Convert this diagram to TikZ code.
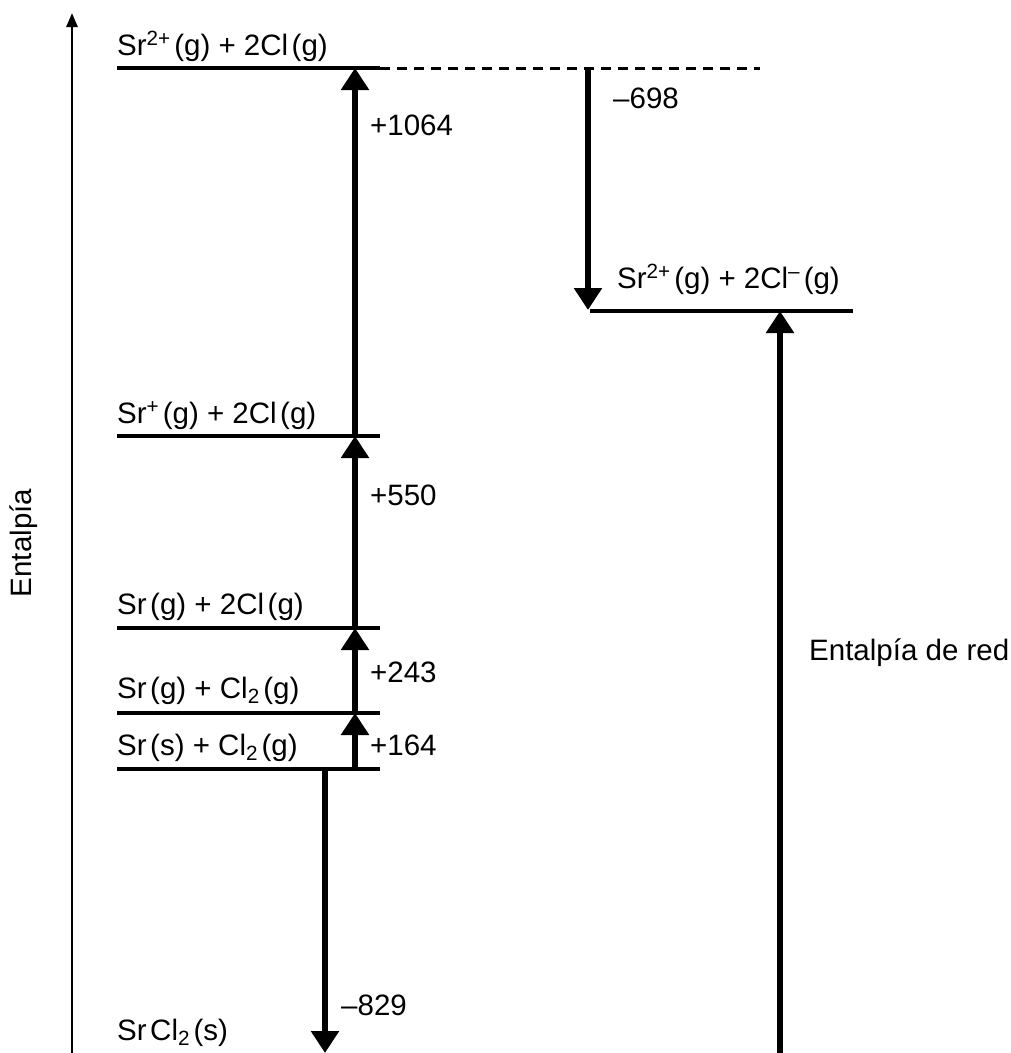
\documentclass[tikz,border=0pt]{standalone}
\usepackage{fontspec}
\setmainfont{Liberation Sans}
\usetikzlibrary{arrows.meta}
\tikzset{
  level/.style={line width=3.2pt},
  dashlevel/.style={line width=3pt, dash pattern=on 10pt off 7pt},
  bigarrow/.style={line width=5.5pt, -{Triangle[width=27pt,length=22pt]}},
  axisarrow/.style={line width=2.6pt, -{Triangle[width=11pt,length=14pt]}},
  lbl/.style={anchor=base west, inner sep=0pt, font=\fontsize{29.5}{34}\selectfont},
}
\newcommand{\spc}{\hspace{0.12em}}
\begin{document}
\begin{tikzpicture}[x=1pt,y=-1pt]
\useasboundingbox (0,0) rectangle (1011,1053);
% axis
\coordinate (axb) at (72,1053);
\coordinate (axt) at (72,13);
\draw[axisarrow] (axb) -- (axt);
\node[lbl, anchor=center, rotate=90] (ent) at (24,543) {Entalpía};
% levels
\coordinate (A1) at (117,68);  \coordinate (A2) at (380,68); \coordinate (A3) at (760,68);
\coordinate (B1) at (117,436); \coordinate (B2) at (380,436);
\coordinate (C1) at (117,628); \coordinate (C2) at (380,628);
\coordinate (D1) at (117,713); \coordinate (D2) at (380,713);
\coordinate (E1) at (117,769); \coordinate (E2) at (380,769);
\coordinate (F1) at (590,311); \coordinate (F2) at (853,311);
\draw[level] (A1) -- (A2);
\draw[dashlevel] (A2) -- (A3);
\draw[level] (B1) -- (B2);
\draw[level] (C1) -- (C2);
\draw[level] (D1) -- (D2);
\draw[level] (E1) -- (E2);
\draw[level] (F1) -- (F2);
% level labels
\node[lbl] (tA) at (117,55) {Sr\textsuperscript{2+}\spc(g) + 2Cl\spc(g)};
\node[lbl] (tB) at (117,423) {Sr\textsuperscript{+}\spc(g) + 2Cl\spc(g)};
\node[lbl] (tC) at (117,614) {Sr\spc(g) + 2Cl\spc(g)};
\node[lbl] (tD) at (117,698) {Sr\spc(g) + Cl\textsubscript{2}\spc(g)};
\node[lbl] (tE) at (117,755) {Sr\spc(s) + Cl\textsubscript{2}\spc(g)};
\node[lbl] (tG) at (117,1040) {Sr\spc Cl\textsubscript{2}\spc(s)};
\node[lbl] (tF) at (617,288) {Sr\textsuperscript{2+}\spc(g) + 2Cl\textsuperscript{–}\spc(g)};
% arrow coordinates
\coordinate (uE) at (355,769); \coordinate (uD) at (355,713);
\coordinate (uC) at (355,628); \coordinate (uB) at (355,436);
\coordinate (uA) at (355,68);
\coordinate (d1s) at (325,769); \coordinate (d1e) at (325,1053);
\coordinate (d2s) at (588,68);  \coordinate (d2e) at (588,310);
\coordinate (ls) at (780,1053); \coordinate (le) at (780,311);
\draw[bigarrow] (uE) -- (uD);
\draw[bigarrow] (uD) -- (uC);
\draw[bigarrow] (uC) -- (uB);
\draw[bigarrow] (uB) -- (uA);
\draw[bigarrow] (d1s) -- (d1e);
\draw[bigarrow] (d2s) -- (d2e);
\draw[bigarrow] (ls) -- (le);
% values
\node[lbl] (v1) at (370,135) {+1064};
\node[lbl] (v2) at (370,505) {+550};
\node[lbl] (v3) at (370,682) {+243};
\node[lbl] (v4) at (370,755) {+164};
\node[lbl] (v5) at (613,108) {–698};
\node[lbl] (v6) at (341,1015) {–829};
\node[lbl] (red) at (809,660) {Entalpía de red};
\end{tikzpicture}
\end{document}
